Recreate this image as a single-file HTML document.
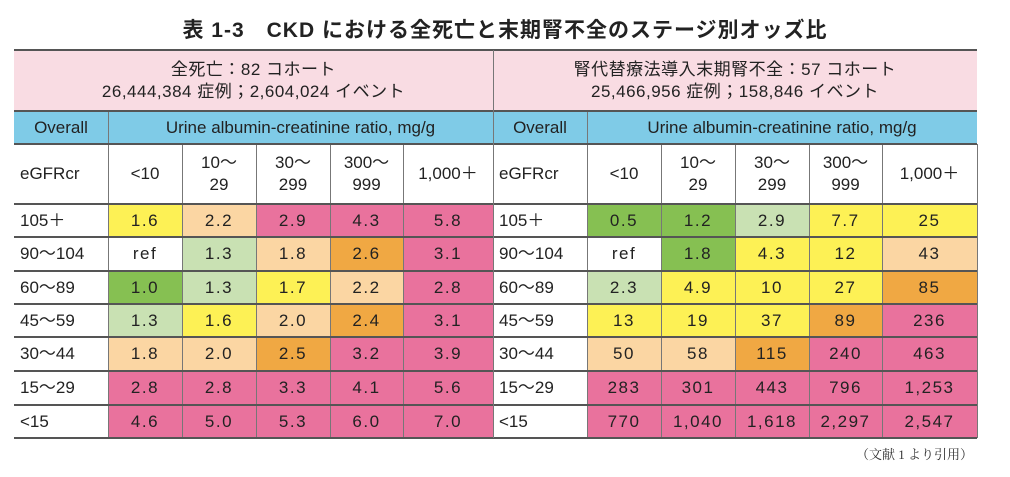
<!DOCTYPE html>
<html><head><meta charset="utf-8">
<style>
body{margin:0;background:#fff;width:1010px;height:477px;overflow:hidden;position:relative;font-family:"Liberation Sans","Noto Sans CJK JP",sans-serif;color:#222}
.c{position:absolute;box-sizing:border-box;display:flex;align-items:center;justify-content:center;text-align:center;font-size:17px;line-height:22px}
#title{position:absolute;left:0;width:1010px;top:14px;text-align:center;font-size:21px;letter-spacing:1px;font-weight:bold;font-family:"Liberation Sans","Noto Sans CJK JP",sans-serif}
#note{position:absolute;left:856px;top:444px;font-size:13px;font-family:"Liberation Serif","Noto Serif CJK SC",serif;color:#333}
.hl{position:absolute;height:2px;background:#555}
.vl{position:absolute;width:1px;background:#777}
</style></head><body>
<div id="title">表 1-3　CKD における全死亡と末期腎不全のステージ別オッズ比</div>
<div id="note">（文献 1 より引用）</div>
<script>
const rowLabels=["105＋","90～104","60～89","45～59","30～44","15～29","<15"];
const colLabels=["<10","10～<br>29","30～<br>299","300～<br>999","1,000＋"];
const mortVals=[["1.6","2.2","2.9","4.3","5.8"],["ref","1.3","1.8","2.6","3.1"],["1.0","1.3","1.7","2.2","2.8"],["1.3","1.6","2.0","2.4","3.1"],["1.8","2.0","2.5","3.2","3.9"],["2.8","2.8","3.3","4.1","5.6"],["4.6","5.0","5.3","6.0","7.0"]];
const mortCls=[["Y","P","K","K","K"],["W","L","P","O","K"],["G","L","Y","P","K"],["L","Y","P","O","K"],["P","P","O","K","K"],["K","K","K","K","K"],["K","K","K","K","K"]];
const eskdVals=[["0.5","1.2","2.9","7.7","25"],["ref","1.8","4.3","12","43"],["2.3","4.9","10","27","85"],["13","19","37","89","236"],["50","58","115","240","463"],["283","301","443","796","1,253"],["770","1,040","1,618","2,297","2,547"]];
const eskdCls=[["G","G","L","Y","Y"],["W","G","Y","Y","P"],["L","Y","Y","Y","O"],["Y","Y","Y","O","K"],["P","P","O","K","K"],["K","K","K","K","K"],["K","K","K","K","K"]];
const headers=["全死亡：82 コホート<br>26,444,384 症例；2,604,024 イベント","腎代替療法導入末期腎不全：57 コホート<br>25,466,956 症例；158,846 イベント"];
const colors={Y:"#fdf155",P:"#fbd6a3",K:"#e9729d",O:"#f0a843",L:"#c9e1b3",G:"#86c052",W:"#ffffff"};
const colX=[14,108,182,256,330,403,493];
const rowY=[204,237,271,304,337,371,405,438];
const offs=[0,479];
function cell(x,y,w,h,html,bg,name,extra){
  const d=document.createElement('div');
  d.className='c';
  d.style.left=x+'px';d.style.top=y+'px';d.style.width=w+'px';d.style.height=h+'px';
  d.style.background=bg;d.innerHTML=html;
  if(extra)Object.assign(d.style,extra);
  
  
  document.body.appendChild(d);return d;
}
function hline(x,y,w,name){const d=document.createElement('div');d.className='hl';d.style.left=x+'px';d.style.top=y+'px';d.style.width=w+'px';


document.body.appendChild(d);}
function vline(x,y,h,name){const d=document.createElement('div');d.className='vl';d.style.left=x+'px';d.style.top=y+'px';d.style.height=h+'px';


document.body.appendChild(d);}
[[mortVals,mortCls],[eskdVals,eskdCls]].forEach(([vals,cls],t)=>{
  const o=offs[t];const X=colX.map(v=>v+o);
  const right=t===1?977:X[6];
  cell(X[0],50,right-X[0],61,headers[t],"#f9dce3","cohort-header-"+t,{letterSpacing:"0.5px"});
  cell(X[0],111,X[1]-X[0],33,"Overall","#7fcbe7","overall-header-"+t);
  cell(X[1],111,right-X[1],33,"Urine albumin-creatinine ratio, mg/g","#7fcbe7","uacr-header-"+t);
  cell(X[0],144,X[1]-X[0],60,"eGFRcr","#fff","egfr-header-"+t,{justifyContent:"flex-start",paddingLeft:"6px"});
  colLabels.forEach((c,j)=>{const x2=j===4?right:X[j+2];cell(X[j+1],144,x2-X[j+1],60,c,"#fff","col-label-"+t+"-"+j);});
  rowLabels.forEach((r,i)=>{
    cell(X[0],rowY[i],X[1]-X[0],rowY[i+1]-rowY[i],r,"#fff","row-label-"+t+"-"+i,{justifyContent:"flex-start",paddingLeft:"6px"});
    vals[i].forEach((v,j)=>{const x2=j===4?right:X[j+2];
      cell(X[j+1],rowY[i],x2-X[j+1],rowY[i+1]-rowY[i],v,colors[cls[i][j]],"value-cell-"+t+"-"+i+"-"+j,{letterSpacing:"1.5px"});});
  });
  for(let k=1;k<=6;k++){const x=k===6?right:X[k];vline(x,k===1?111:144,438-(k===1?111:144),"col-divider");}
  [111,144].forEach(y=>hline(X[0],y-1,right-X[0],"header-line"));
  rowY.forEach(y=>hline(X[0],y-1,right-X[0],"row-line"));
  hline(X[0],49,right-X[0],"top-line");
});
vline(493,50,388,"table-divider");
</script>
</body></html>
